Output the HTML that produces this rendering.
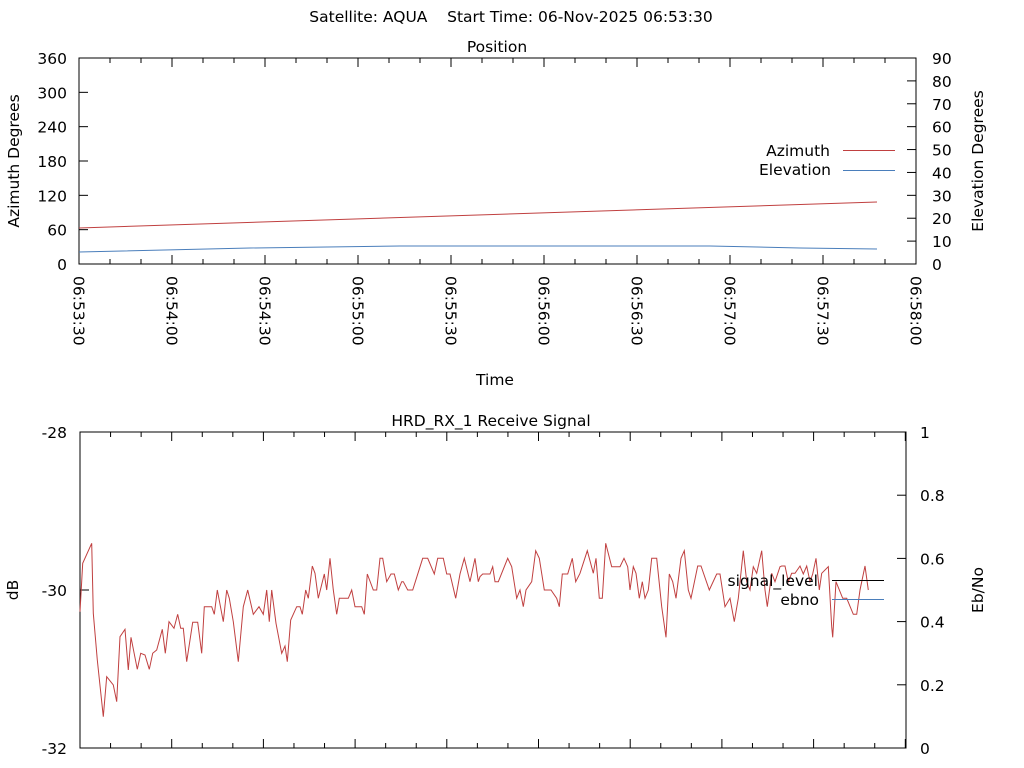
<!DOCTYPE html>
<html><head><meta charset="utf-8"><style>
body{margin:0;background:#fff;}
svg{display:block;font-family:"DejaVu Sans","Liberation Sans",sans-serif;font-size:15.5px;fill:#000;}
</style></head><body>
<svg id="s" width="1024" height="768" viewBox="0 0 1024 768" xmlns="http://www.w3.org/2000/svg">
<rect width="1024" height="768" fill="#fff"/>
<text x="511" y="22" text-anchor="middle" xml:space="preserve">Satellite: AQUA    Start Time: 06-Nov-2025 06:53:30</text>
<text x="497" y="52" text-anchor="middle">Position</text>
<text x="495" y="385" text-anchor="middle">Time</text>
<text x="491" y="426" text-anchor="middle">HRD_RX_1 Receive Signal</text>
<rect x="79" y="58" width="837" height="206" fill="none" stroke="#000" stroke-width="1"/>
<g id="topticks" stroke="#000"></g>
<g id="toplabels"></g>
<text transform="translate(19,161) rotate(-90)" text-anchor="middle">Azimuth Degrees</text>
<text transform="translate(983,161) rotate(-90)" text-anchor="middle">Elevation Degrees</text>
<polyline fill="none" stroke="#c04040" stroke-width="1" points="79,228 877,202"/>
<polyline fill="none" stroke="#4a7ebb" stroke-width="1" points="79,252 250,248 400,246 710,246 800,248 877,249"/>
<text x="830" y="156" text-anchor="end">Azimuth</text>
<line x1="843" y1="150.5" x2="895" y2="150.5" stroke="#c04040"/>
<text x="831" y="175" text-anchor="end">Elevation</text>
<line x1="843" y1="170.5" x2="895" y2="170.5" stroke="#4a7ebb"/>
<rect x="80" y="432" width="826" height="316" fill="none" stroke="#000" stroke-width="1"/>
<g id="botticks" stroke="#000"></g>
<text x="67" y="438" text-anchor="end">-28</text>
<text x="67" y="596" text-anchor="end">-30</text>
<text x="67" y="754" text-anchor="end">-32</text>
<line x1="80" y1="590" x2="89" y2="590" stroke="#000"/>
<text transform="translate(18,590) rotate(-90)" text-anchor="middle">dB</text>
<text transform="translate(983,590) rotate(-90)" text-anchor="middle">Eb/No</text>
<g id="rlab"></g>
<polyline id="sig" fill="none" stroke="#c04040" stroke-width="1"/>
<text x="818" y="586" text-anchor="end">signal_level</text>
<line x1="832" y1="580.5" x2="884" y2="580.5" stroke="#000"/>
<text x="819" y="605" text-anchor="end">ebno</text>
<line x1="832" y1="599.5" x2="884" y2="599.5" stroke="#4a7ebb"/>
</svg>
<script>
var NS="http://www.w3.org/2000/svg";
function el(p,t,a,txt){var e=document.createElementNS(NS,t);for(var k in a)e.setAttribute(k,a[k]);if(txt!==undefined)e.textContent=txt;document.getElementById(p).appendChild(e);return e;}
var labs=["06:53:30","06:54:00","06:54:30","06:55:00","06:55:30","06:56:00","06:56:30","06:57:00","06:57:30","06:58:00"];
for(var i=0;i<=27;i++){var x=79+i*837/27;var big=i%3==0;var L=big?9:5;
el("topticks","line",{x1:x,y1:264,x2:x,y2:264-L});el("topticks","line",{x1:x,y1:58,x2:x,y2:58+L});
if(big){el("toplabels","text",{transform:"translate("+(x-5.5)+",276) rotate(90)"},labs[i/3]);}}
for(var i=0;i<=6;i++){var y=264-i*206/6;el("topticks","line",{x1:79,y1:y,x2:88,y2:y});
el("toplabels","text",{x:67,y:y+6,"text-anchor":"end"},String(i*60));}
for(var i=0;i<=9;i++){var y=264-i*206/9;el("topticks","line",{x1:916,y1:y,x2:907,y2:y});
el("toplabels","text",{x:932,y:y+6},String(i*10));}
for(var i=0;i<=27;i++){var x=80+i*91.7/3;if(x>906)break;var L=(i%3==0)?9:5;
el("botticks","line",{x1:x,y1:748,x2:x,y2:748-L});el("botticks","line",{x1:x,y1:432,x2:x,y2:432+L});}
var rl=["0","0.2","0.4","0.6","0.8","1"];
for(var i=0;i<=5;i++){var y=748-i*316/5;el("botticks","line",{x1:906,y1:y,x2:897,y2:y});
el("rlab","text",{x:920,y:y+6},rl[i]);}
var a=[[60,275],[68,130],[95,70],[100,280],[112,420],[130,590],[140,470],[160,495],[170,545],[180,350],[195,328],[205,450],[213,352],[232,448],[242,400],[255,405],[268,448],[278,400],[290,390],[307,328],[316,400],[327,305],[342,325],[353,283],[362,325],[370,325],[380,425],[398,307],[413,307],[425,400],[433,260],[455,260],[463,283],[472,210],[490,305],[500,210],[508,235],[520,305],[535,425],[550,260],[563,210],[580,283],[597,260],[610,283],[620,210],[628,305],[635,210],[648,310],[665,400],[675,378],[682,425],[692,300],[710,260],[720,260],[727,283],[737,210],[745,235],[757,138],[765,160],[775,235],[793,162],[800,210],[810,115],[820,210],[830,283],[838,235],[865,235],[875,210],[885,260],[905,260],[913,283],[922,162],[940,210],[950,210],[960,115],[968,115],[980,185],[993,162],[1003,162],[1015,210],[1025,185],[1030,185],[1043,210],[1058,210],[1088,115],[1103,115],[1123,162],[1133,115],[1150,115],[1160,162],[1170,162],[1187,235],[1200,162],[1213,115],[1230,185],[1245,115],[1255,185]];
var b=[[0,170],[8,162],[30,162],[38,140],[45,185],[55,185],[83,115],[95,140],[110,235],[120,210],[130,260],[138,210],[155,185],[167,92],[178,115],[193,210],[213,210],[230,235],[238,260],[247,162],[263,162],[277,115],[287,185],[300,160],[322,92],[340,160],[348,115],[358,235],[367,235],[377,70],[395,140],[420,140],[432,115],[443,140],[450,210],[460,140],[468,160],[478,235],[487,185],[495,235],[505,210],[515,115],[530,115],[545,260],[558,352],[568,162],[578,185],[588,235],[603,115],[613,92],[625,210],[633,235],[653,138],[663,138],[688,210],[710,162],[720,162],[735,260],[750,235],[763,305],[775,235],[790,92],[800,185],[810,210],[820,140],[830,160],[845,92],[855,210],[862,260],[875,160],[885,185],[900,140],[905,138],[915,138],[925,185],[935,160],[945,160],[960,138],[970,162],[980,138],[990,185],[998,162],[1008,115],[1018,210],[1025,160],[1045,140],[1055,320],[1058,352],[1068,185],[1088,235],[1100,235],[1120,283],[1130,283],[1140,210],[1155,138],[1165,210]];
var pts=[];a.forEach(function(p){pts.push((60+p[0]/3).toFixed(1)+","+(520+p[1]/3).toFixed(1));});
b.forEach(function(p){pts.push((480+p[0]/3).toFixed(1)+","+(520+p[1]/3).toFixed(1));});
document.getElementById("sig").setAttribute("points",pts.join(" "));
</script>
</body></html>
